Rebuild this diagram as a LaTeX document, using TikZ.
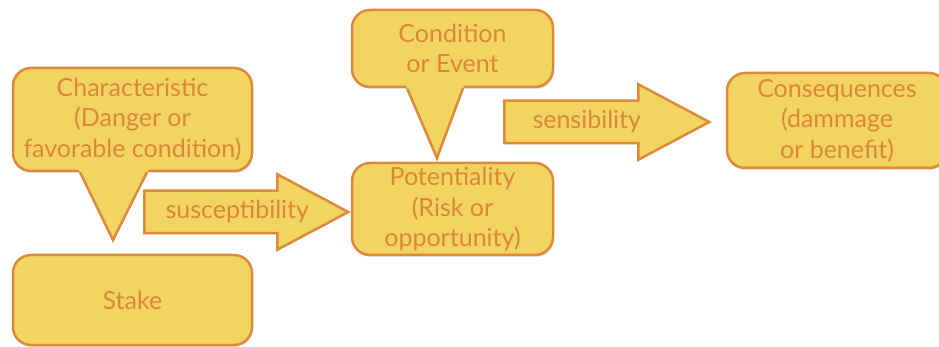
\documentclass[tikz,border=0pt]{standalone}
\usepackage{fontspec}
\setmainfont{Lato}
\usetikzlibrary{calc,shapes.arrows,shadows}
\definecolor{boxfill}{RGB}{242,212,96}
\definecolor{boxline}{RGB}{222,138,60}
\definecolor{boxtext}{RGB}{222,134,58}
\tikzset{
  bubble/.style={draw=boxline, fill=boxfill, line width=2.5pt, rounded corners=18pt,
    text=boxtext, align=center, inner sep=0pt, font=\fontsize{25}{30.5}\selectfont,
    drop shadow={opacity=0.2, shadow xshift=1pt, shadow yshift=-2pt}},
  bigarrow/.style={single arrow, draw=boxline, fill=boxfill, line width=2.5pt,
    text=boxtext, font=\fontsize{25}{30.5}\selectfont, text height=18pt, text depth=5pt,
    inner ysep=8.5pt, inner xsep=2pt, single arrow head extend=16.5pt,
    single arrow tip angle=56, line join=miter}
}
\def\pointer(#1)(#2)(#3){\fill[boxfill] ($(#2)!1.07!(#1)$) -- (#2) -- ($(#2)!1.07!(#3)$) -- cycle;
  \draw[boxline, line width=2.5pt, line join=miter] (#1) -- (#2) -- (#3);}

\begin{document}
\begin{tikzpicture}[x=1pt,y=-1pt]
		%%%%% START %%%%%
		\useasboundingbox (0,0) rectangle (939,347);
		
		\node[bubble, minimum width=239pt, minimum height=103pt] (cha) at (132.5,119.5) {Characteristic\\(Danger or\\favorable condition)};
		\node[bubble, minimum width=239pt, minimum height=90pt] (sta) at (132.5,300) {Stake};
		\node[bubble, minimum width=201pt, minimum height=77pt] (con) at (452.5,48.5) {Condition\\or Event};
		\node[bubble, minimum width=201pt, minimum height=92pt] (pot) at (452.5,209) {Potentiality\\(Risk or\\opportunity)};
		\node[bubble, minimum width=220pt, minimum height=95pt] (cnq) at (837,120.5) {Consequences\\(dammage\\or benefit)};
		
		\coordinate (chaL) at ([xshift=-52.5pt]cha.south);
		\coordinate (chaR) at ([xshift=14.5pt]cha.south);
		\coordinate (chaTip) at (113,240);
		\pointer(chaL)(chaTip)(chaR)
		
		\coordinate (conL) at ([xshift=-45.5pt]con.south);
		\coordinate (conR) at ([xshift=10.5pt]con.south);
		\coordinate (conTip) at (437,158);
		\pointer(conL)(conTip)(conR)
		
		\node[bigarrow, minimum height=204pt, anchor=tail] (sus) at (143,212) {\hspace*{11pt}susceptibility\hspace*{-11pt}};
		\node[bigarrow, minimum height=205pt, anchor=tail] (sen) at (503,122) {sensibility};
		
		%%%%% END %%%%%
	\end{tikzpicture}
\end{document}
